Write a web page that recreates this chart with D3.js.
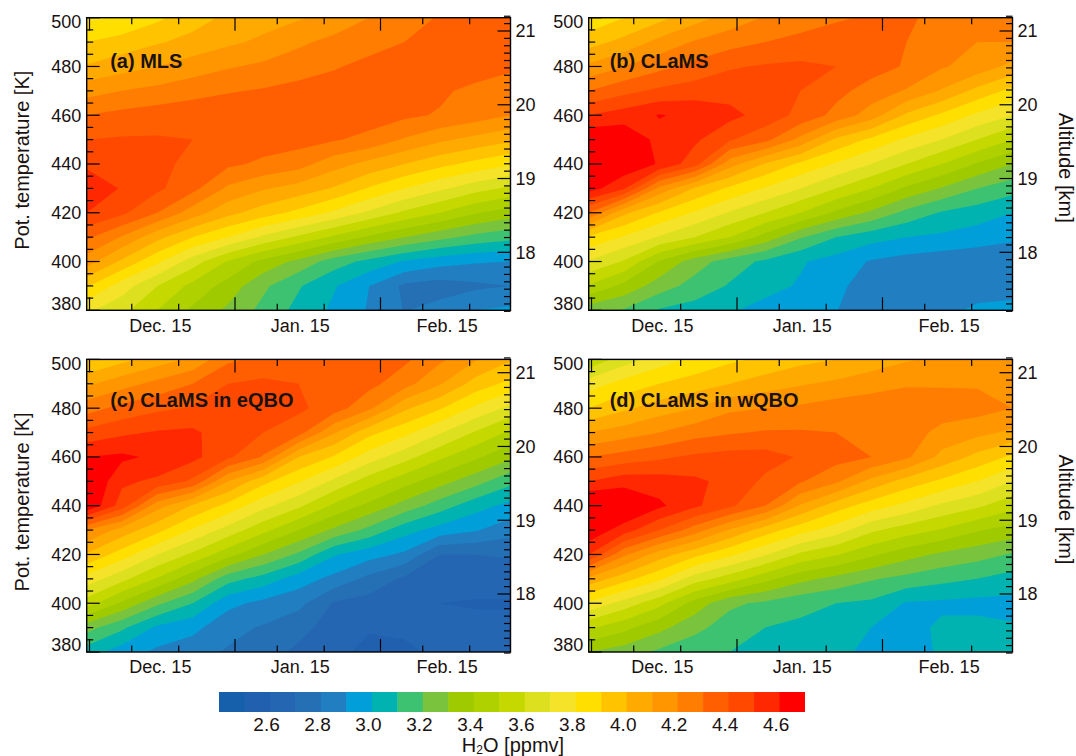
<!doctype html>
<html lang="en">
    <head>
        <meta charset="utf-8">
        <title>H2O panels</title>
        <script src="https://cdn.jsdelivr.net/npm/d3@7"></script>
        <style>
            html, body { margin: 0; padding: 0; background: #fff; }
            text { font-family: "Liberation Sans", Arial, sans-serif; fill: #1a1210; }
        </style>
    </head>
    <body>
        <script>
            var svgW = 1076;
            var svgH = 756;

            // days since Dec. 1 for each grid column, theta levels for each grid row
            var days = [-0.6, 6.93, 14.45, 21.98, 29.5, 37.03, 44.55, 52.08, 59.6, 67.13, 74.65, 82.18, 89.7];
            var theta = [380, 390, 400, 410, 420, 430, 440, 450, 460, 470, 480, 490, 500];

            // H2O in ppmv, one row per theta level
            var h2oMLS = [
                [3.72,3.63,3.5,3.38,3.28,3.17,3.07,2.98,2.89,2.795,2.84,2.9,2.92],
                [3.91,3.75,3.6,3.47,3.36,3.22,3.11,3.01,2.9,2.78,2.75,2.78,2.8],
                [4.15,3.98,3.82,3.65,3.49,3.37,3.27,3.15,3.07,2.99,2.94,2.91,2.9],
                [4.32,4.19,4.03,3.9,3.8,3.68,3.58,3.48,3.38,3.3,3.23,3.17,3.13],
                [4.5,4.42,4.3,4.15,4.03,3.95,3.87,3.78,3.68,3.58,3.5,3.41,3.35],
                [4.58,4.49,4.42,4.33,4.18,4.11,4.06,3.99,3.89,3.8,3.72,3.64,3.58],
                [4.48,4.46,4.42,4.38,4.32,4.28,4.24,4.14,4.07,4.0,3.93,3.87,3.81],
                [4.4,4.41,4.41,4.4,4.37,4.35,4.34,4.31,4.27,4.19,4.12,4.07,4.02],
                [4.3,4.33,4.35,4.37,4.38,4.38,4.38,4.37,4.35,4.32,4.29,4.25,4.2],
                [4.16,4.2,4.23,4.26,4.29,4.31,4.33,4.35,4.36,4.35,4.32,4.27,4.24],
                [4.01,4.06,4.1,4.15,4.19,4.22,4.26,4.29,4.33,4.36,4.37,4.36,4.32],
                [3.9,3.94,3.99,4.03,4.08,4.12,4.18,4.23,4.26,4.3,4.33,4.33,4.33],
                [3.78,3.81,3.88,3.96,4.02,4.06,4.09,4.13,4.2,4.25,4.31,4.33,4.33]
            ];
            var h2oCLaMS = [
                [3.24,3.19,3.09,3.06,3.01,2.97,2.93,2.905,2.82,2.82,2.87,2.92,2.93],
                [3.49,3.37,3.25,3.16,3.09,3.03,2.99,2.93,2.84,2.82,2.83,2.85,2.86],
                [3.69,3.59,3.39,3.25,3.15,3.08,3.01,2.96,2.89,2.86,2.84,2.83,2.82],
                [3.88,3.79,3.69,3.6,3.5,3.36,3.21,3.1,3.04,3.0,2.98,2.95,2.92],
                [4.3,4.02,3.89,3.79,3.69,3.6,3.5,3.38,3.28,3.17,3.09,3.05,3.0],
                [4.65,4.51,4.17,3.99,3.88,3.79,3.7,3.6,3.5,3.38,3.29,3.2,3.14],
                [4.72,4.68,4.59,4.44,4.14,3.99,3.88,3.79,3.7,3.6,3.5,3.39,3.3],
                [4.7,4.68,4.57,4.52,4.41,4.33,4.17,3.98,3.88,3.78,3.7,3.6,3.5],
                [4.5,4.55,4.605,4.58,4.53,4.46,4.37,4.27,4.15,3.98,3.88,3.78,3.7],
                [4.3,4.37,4.42,4.45,4.46,4.44,4.4,4.33,4.26,4.19,4.09,3.97,3.87],
                [4.12,4.2,4.27,4.33,4.39,4.41,4.42,4.4,4.34,4.29,4.21,4.16,4.07],
                [3.96,4.03,4.13,4.21,4.26,4.3,4.33,4.34,4.34,4.3,4.25,4.2,4.2],
                [3.82,3.9,3.97,4.06,4.14,4.21,4.25,4.29,4.31,4.31,4.28,4.26,4.25]
            ];
            var h2oEQBO = [
                [3.05,2.95,2.88,2.84,2.79,2.74,2.68,2.63,2.57,2.58,2.62,2.62,2.6],
                [3.24,3.12,2.98,2.93,2.83,2.79,2.73,2.66,2.61,2.62,2.62,2.63,2.63],
                [3.55,3.38,3.22,3.1,2.93,2.87,2.83,2.69,2.66,2.63,2.6,2.59,2.59],
                [3.76,3.63,3.49,3.33,3.14,3.06,2.95,2.87,2.77,2.68,2.65,2.65,2.65],
                [3.99,3.85,3.7,3.58,3.44,3.3,3.18,3.01,2.94,2.88,2.7,2.7,2.71],
                [4.2,4.06,3.93,3.79,3.66,3.53,3.4,3.28,3.17,3.04,2.96,2.91,2.84],
                [4.7,4.45,4.14,3.99,3.87,3.73,3.62,3.48,3.37,3.26,3.15,3.04,2.97],
                [4.72,4.52,4.48,4.38,4.1,3.93,3.81,3.68,3.55,3.44,3.34,3.24,3.13],
                [4.6,4.62,4.58,4.53,4.42,4.29,4.0,3.89,3.75,3.64,3.52,3.42,3.32],
                [4.43,4.48,4.51,4.52,4.44,4.4,4.34,4.11,3.93,3.83,3.71,3.59,3.48],
                [4.26,4.33,4.38,4.41,4.43,4.45,4.42,4.35,4.22,4.02,3.91,3.78,3.67],
                [4.08,4.16,4.23,4.3,4.4,4.42,4.4,4.38,4.33,4.24,4.11,3.96,3.87],
                [3.89,3.97,4.05,4.12,4.28,4.33,4.35,4.34,4.33,4.32,4.22,4.11,4.01]
            ];
            var h2oWQBO = [
                [3.3,3.25,3.18,3.13,3.1,3.07,3.05,3.03,2.97,2.94,3.02,3.04,3.03],
                [3.52,3.43,3.33,3.23,3.15,3.1,3.08,3.05,3.0,2.96,3.02,3.03,3.01],
                [3.78,3.66,3.53,3.36,3.22,3.18,3.13,3.1,3.08,2.99,2.98,2.97,2.97],
                [4.07,3.94,3.82,3.65,3.55,3.43,3.33,3.27,3.21,3.17,3.13,3.1,3.06],
                [4.5,4.22,4.05,3.93,3.82,3.71,3.58,3.51,3.42,3.34,3.28,3.24,3.19],
                [4.68,4.55,4.4,4.25,4.09,3.95,3.84,3.75,3.62,3.55,3.49,3.41,3.36],
                [4.75,4.72,4.62,4.52,4.42,4.3,4.09,3.95,3.85,3.77,3.68,3.62,3.53],
                [4.5,4.56,4.55,4.52,4.47,4.38,4.31,4.22,4.07,3.96,3.88,3.8,3.7],
                [4.3,4.34,4.38,4.42,4.44,4.44,4.39,4.34,4.3,4.22,4.07,3.97,3.88],
                [4.1,4.15,4.2,4.26,4.29,4.31,4.31,4.3,4.27,4.25,4.17,4.13,4.08],
                [3.9,3.98,4.05,4.1,4.18,4.2,4.22,4.25,4.26,4.26,4.25,4.24,4.2],
                [3.75,3.84,3.9,3.95,4.0,4.05,4.09,4.12,4.16,4.19,4.19,4.19,4.16],
                [3.52,3.65,3.75,3.82,3.88,3.92,3.97,4.0,4.04,4.09,4.12,4.12,4.12]
            ];

            // colour levels: lower bound of each band and its colour
            var levels = [2.4,2.5,2.6,2.7,2.8,2.9,3.0,3.1,3.2,3.3,3.4,3.5,3.6,3.7,3.8,3.9,4.0,4.1,4.2,4.3,4.4,4.5,4.6];
            var levelColors = ["#155fab","#2060ae","#2566b2","#2570b5","#217fc1","#009fd9","#00b3b1","#3dc271",
                               "#7ac43d","#a0ca00","#afd100","#c5d800","#dde01e","#f5e32a","#ffdf00","#ffc300",
                               "#ffaa00","#ff9600","#ff7d00","#ff5f00","#ff4800","#ff2800","#ff0000"];
            var cbarTicks = [2.6,2.8,3.0,3.2,3.4,3.6,3.8,4.0,4.2,4.4,4.6];

            var thetaMajor = [380,400,420,440,460,480,500];
            var thetaMinor = d3.range(380, 501, 5);
            var altMajor = [18,19,20,21];
            var altMinor = d3.range(172, 213).map(d => d / 10);
            var dayMajor = [0,31,62];
            var dayMinor = [9,19,40,50,71,81];
            var dateLabels = ["Dec. 15","Jan. 15","Feb. 15"];
            var dateLabelDays = [15.1,44.9,76.2];

            var panelW = 423.8;
            var panelH = 292.6;
            var panels = [
                {name: "(a) MLS", values: h2oMLS, x: 86.7, y: 17.7, left: true, right: false},
                {name: "(b) CLaMS", values: h2oCLaMS, x: 588.7, y: 17.7, left: false, right: true},
                {name: "(c) CLaMS in eQBO", values: h2oEQBO, x: 86.7, y: 359.4, left: true, right: false},
                {name: "(d) CLaMS in wQBO", values: h2oWQBO, x: 588.7, y: 359.4, left: false, right: true}
            ];

            var svg = d3.select("body")
                        .append("svg")
                        .attr("width", svgW)
                        .attr("height", svgH)
                        .style("display", "block");

            var xScale = d3.scaleLinear().domain([days[0], days[days.length - 1]]).range([0, panelW]);
            var yScale = d3.scaleLinear().domain([380, 500]).range([panelH, 0]);
            var altScale = d3.scaleLinear().domain([18, 21]).range([234.6, 13.3]);

            // d3.contours puts grid node i at i + 0.5, the outer half cell is clamped onto the frame
            var colToDay = d3.scaleLinear().domain([0.5, days.length - 0.5]).range([days[0], days[days.length - 1]]).clamp(true);
            var rowToTheta = d3.scaleLinear().domain([0.5, theta.length - 0.5]).range([theta[0], theta[theta.length - 1]]).clamp(true);

            var gridPath = d3.geoPath(d3.geoTransform({
                point: function(cx, cy) {
                    this.stream.point(xScale(colToDay(cx)), yScale(rowToTheta(cy)));
                }
            }));

            var contours = d3.contours()
                             .size([days.length, theta.length])
                             .smooth(true)
                             .thresholds(levels);

            panels.forEach(function(p) {
                var g = svg.append("g")
                           .attr("transform", "translate(" + p.x + "," + p.y + ")");

                g.selectAll("path.band")
                 .data(contours(p.values.flat()))
                 .enter()
                 .append("path")
                 .attr("class", "band")
                 .attr("d", gridPath)
                 .attr("fill", (d, i) => levelColors[i]);

                g.append("text")
                 .attr("x", p.x < 300 ? 23.5 : 21)
                 .attr("y", p.y < 300 ? 50 : 47.5)
                 .attr("font-size", 20)
                 .attr("font-weight", "bold")
                 .text(p.name);

                // ticks on all four sides, major ones longer
                var ticks = g.append("g").attr("stroke", "#000").attr("stroke-width", 1.2);
                [[dayMajor, 13], [dayMinor, 6.5]].forEach(function(set) {
                    set[0].forEach(function(d) {
                        ticks.append("line").attr("x1", xScale(d)).attr("x2", xScale(d)).attr("y1", panelH).attr("y2", panelH - set[1]);
                        ticks.append("line").attr("x1", xScale(d)).attr("x2", xScale(d)).attr("y1", 0).attr("y2", set[1]);
                    });
                });
                thetaMinor.forEach(function(d) {
                    var len = thetaMajor.includes(d) ? 13 : 6.5;
                    ticks.append("line").attr("x1", 0).attr("x2", len).attr("y1", yScale(d)).attr("y2", yScale(d));
                });
                altMinor.forEach(function(d) {
                    var len = altMajor.includes(d) ? 13 : 6.5;
                    ticks.append("line").attr("x1", panelW).attr("x2", panelW - len).attr("y1", altScale(d)).attr("y2", altScale(d));
                });

                g.append("rect")
                 .attr("width", panelW)
                 .attr("height", panelH)
                 .attr("fill", "none")
                 .attr("stroke", "#000")
                 .attr("stroke-width", 1.4);

                g.selectAll("text.date")
                 .data(dateLabels)
                 .enter()
                 .append("text")
                 .attr("class", "date")
                 .attr("x", (d, i) => xScale(dateLabelDays[i]))
                 .attr("y", panelH + 21.5)
                 .attr("text-anchor", "middle")
                 .attr("font-size", 18)
                 .text(d => d);

                // end labels are pushed inwards so they stay beside the frame
                g.selectAll("text.theta")
                 .data(thetaMajor)
                 .enter()
                 .append("text")
                 .attr("class", "theta")
                 .attr("x", -5.5)
                 .attr("y", d => yScale(d) + (d == 500 ? 10.6 : d == 380 ? -0.5 : 6.5))
                 .attr("text-anchor", "end")
                 .attr("font-size", 18)
                 .text(d => d);

                g.selectAll("text.alt")
                 .data(altMajor)
                 .enter()
                 .append("text")
                 .attr("class", "alt")
                 .attr("x", panelW + 5)
                 .attr("y", d => altScale(d) + 6.3)
                 .attr("font-size", 18)
                 .text(d => d);

                if (p.left) {
                    g.append("text")
                     .attr("transform", "translate(-57.5,142.5) rotate(-90)")
                     .attr("text-anchor", "middle")
                     .attr("font-size", 20)
                     .text("Pot. temperature [K]");
                }
                if (p.right) {
                    g.append("text")
                     .attr("transform", "translate(470.5,150) rotate(90)")
                     .attr("text-anchor", "middle")
                     .attr("font-size", 20)
                     .text("Altitude [km]");
                }
            });

            // colour bar
            var cbarScale = d3.scaleLinear().domain([2.4, 4.7]).range([219, 805]);
            var cbar = svg.append("g").attr("transform", "translate(0,692)");
            cbar.selectAll("rect")
                .data(levels)
                .enter()
                .append("rect")
                .attr("x", d => cbarScale(d))
                .attr("width", (d, i) => cbarScale(2.5) - cbarScale(2.4) + (i < levels.length - 1 ? 0.5 : 0))
                .attr("height", 20)
                .attr("fill", (d, i) => levelColors[i]);
            cbar.selectAll("text")
                .data(cbarTicks)
                .enter()
                .append("text")
                .attr("x", d => cbarScale(d) - 3.4)
                .attr("y", 39)
                .attr("text-anchor", "middle")
                .attr("font-size", 19)
                .text(d => d3.format(".1f")(d));

            var cbarTitle = svg.append("text")
                               .attr("x", 513)
                               .attr("y", 752)
                               .attr("text-anchor", "middle")
                               .attr("font-size", 20);
            cbarTitle.append("tspan").text("H");
            cbarTitle.append("tspan").attr("font-size", 12).attr("dy", 2).text("2");
            cbarTitle.append("tspan").attr("dy", -2).text("O [ppmv]");
        </script>
    </body>
</html>
